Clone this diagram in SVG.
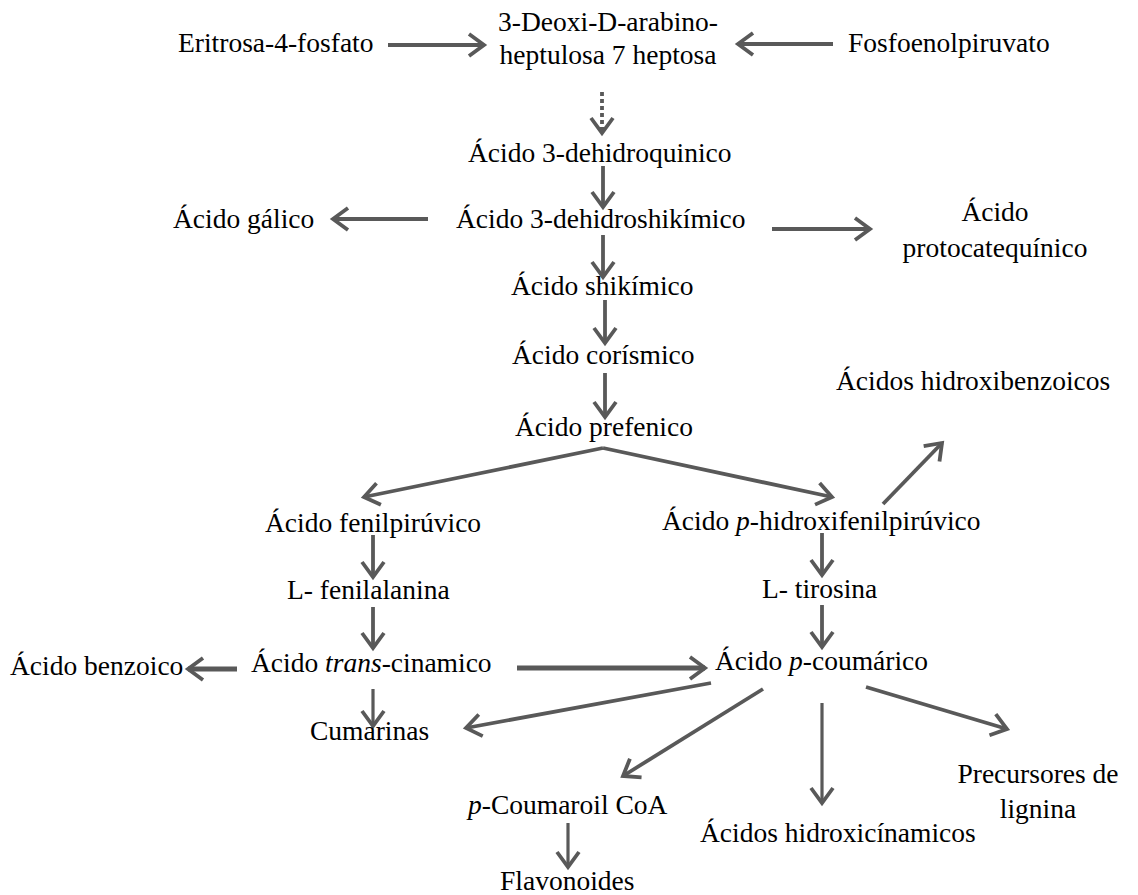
<svg xmlns="http://www.w3.org/2000/svg" width="1138" height="895" viewBox="0 0 1138 895">
<style>
text{fill:#000;font-size:27.5px;font-family:'Liberation Serif','Times New Roman',serif}
.m{text-anchor:middle}
.i{font-style:italic}
.c{stroke:#595959;stroke-width:3.8;fill:none}
.t{stroke-width:5}
.n{stroke-width:3.2}
.d{stroke-dasharray:4 3}
</style>
<defs>
<marker id="ah" markerUnits="userSpaceOnUse" markerWidth="30" markerHeight="30" viewBox="-20 -15 24 30" refX="0" refY="0" orient="auto" overflow="visible">
<path d="M-15,-11 L0,0 L-15,11" fill="none" stroke="#595959" stroke-width="3.8"/>
</marker>
</defs>
<rect width="1138" height="895" fill="#fff"/>
<g id="connectors">
<line class="c" x1="388" y1="45" x2="484" y2="45" marker-end="url(#ah)"/>
<line class="c" x1="833" y1="44" x2="738" y2="44" marker-end="url(#ah)"/>
<line class="c d" x1="602" y1="92" x2="602" y2="130"/>
<line class="c" x1="602" y1="127" x2="602" y2="133" marker-end="url(#ah)"/>
<line class="c" x1="603" y1="166" x2="603" y2="207" marker-end="url(#ah)"/>
<line class="c" x1="428" y1="219" x2="333" y2="219" marker-end="url(#ah)"/>
<line class="c" x1="772" y1="229" x2="870" y2="229" marker-end="url(#ah)"/>
<line class="c" x1="603" y1="235" x2="603" y2="277" marker-end="url(#ah)"/>
<line class="c" x1="605" y1="300" x2="605" y2="343" marker-end="url(#ah)"/>
<line class="c" x1="605" y1="373" x2="605" y2="417" marker-end="url(#ah)"/>
<line class="c" x1="603" y1="448" x2="364" y2="497" marker-end="url(#ah)"/>
<line class="c" x1="603" y1="448" x2="832" y2="497" marker-end="url(#ah)"/>
<line class="c" x1="883" y1="504" x2="942" y2="443" marker-end="url(#ah)"/>
<line class="c" x1="373" y1="535" x2="373" y2="577" marker-end="url(#ah)"/>
<line class="c" x1="373" y1="607" x2="373" y2="648" marker-end="url(#ah)"/>
<line class="c" x1="822" y1="533" x2="822" y2="575" marker-end="url(#ah)"/>
<line class="c" x1="822" y1="605" x2="822" y2="647" marker-end="url(#ah)"/>
<line class="c t" x1="237" y1="669" x2="188" y2="669" marker-end="url(#ah)"/>
<line class="c t" x1="517" y1="668" x2="705" y2="668" marker-end="url(#ah)"/>
<line class="c n" x1="373" y1="689" x2="373" y2="726" marker-end="url(#ah)"/>
<line class="c" x1="711" y1="683" x2="466" y2="728" marker-end="url(#ah)"/>
<line class="c" x1="763" y1="689" x2="623" y2="776" marker-end="url(#ah)"/>
<line class="c n" x1="822" y1="703" x2="822" y2="803" marker-end="url(#ah)"/>
<line class="c" x1="866" y1="687" x2="1007" y2="729" marker-end="url(#ah)"/>
<line class="c n" x1="568" y1="823" x2="568" y2="867" marker-end="url(#ah)"/>
</g>
<g id="n-dahp"><text class="m" x="608" y="31">3-Deoxi-D-arabino-</text><text class="m" x="608" y="64">heptulosa 7 heptosa</text></g>
<g id="n-eritrosa"><text x="178" y="52">Eritrosa-4-fosfato</text></g>
<g id="n-fosfo"><text x="848" y="52">Fosfoenolpiruvato</text></g>
<g id="n-quinico"><text x="468" y="162">Ácido 3-dehidroquinico</text></g>
<g id="n-dhs"><text x="456" y="228">Ácido 3-dehidroshikímico</text></g>
<g id="n-galico"><text x="173" y="228">Ácido gálico</text></g>
<g id="n-proto"><text class="m" x="995" y="221">Ácido</text><text class="m" x="995" y="257">protocatequínico</text></g>
<g id="n-shik"><text x="511" y="295">Ácido shikímico</text></g>
<g id="n-cori"><text x="512" y="364">Ácido corísmico</text></g>
<g id="n-pref"><text x="515" y="436">Ácido prefenico</text></g>
<g id="n-hbenz"><text x="836" y="390">Ácidos hidroxibenzoicos</text></g>
<g id="n-fenilpir"><text x="265" y="532">Ácido fenilpirúvico</text></g>
<g id="n-phidroxi"><text x="662" y="530">Ácido <tspan class="i">p</tspan>-hidroxifenilpirúvico</text></g>
<g id="n-fenilala"><text x="287" y="599">L- fenilalanina</text></g>
<g id="n-tirosina"><text x="762" y="598">L- tirosina</text></g>
<g id="n-trans"><text x="251" y="672">Ácido <tspan class="i">trans</tspan>-cinamico</text></g>
<g id="n-benzoico"><text x="10" y="675">Ácido benzoico</text></g>
<g id="n-coumarico"><text x="715" y="670">Ácido <tspan class="i">p</tspan>-coumárico</text></g>
<g id="n-cumarinas"><text x="310" y="740">Cumarinas</text></g>
<g id="n-coa"><text x="468" y="814"><tspan class="i">p</tspan>-Coumaroil CoA</text></g>
<g id="n-flav"><text x="500" y="890">Flavonoides</text></g>
<g id="n-hcin"><text x="700" y="842">Ácidos hidroxicínamicos</text></g>
<g id="n-lignina"><text class="m" x="1038" y="783">Precursores de</text><text class="m" x="1038" y="818">lignina</text></g>
</svg>
